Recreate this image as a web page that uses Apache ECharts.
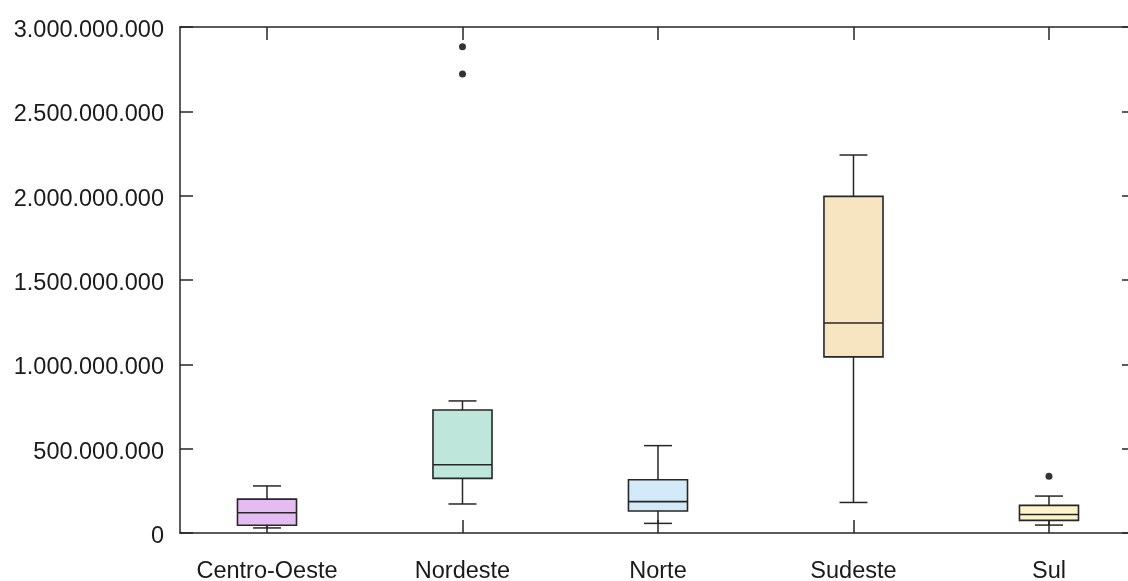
<!DOCTYPE html>
<html>
<head>
<meta charset="utf-8">
<script src="https://cdn.jsdelivr.net/npm/echarts@6/dist/echarts.min.js"></script>
<style>
  html, body { margin: 0; padding: 0; background: #fff; }
  #chart { width: 1128px; height: 581px; }
</style>
</head>
<body>
<div id="chart"></div>
<script>
// Regions and their box statistics
const categories = ['Centro-Oeste', 'Nordeste', 'Norte', 'Sudeste', 'Sul'];
const lowerWhisker = [30e6, 172e6, 57e6, 181e6, 47e6];
const q1 = [46e6, 324e6, 130e6, 1044e6, 75e6];
const median = [120e6, 405e6, 186e6, 1245e6, 110e6];
const q3 = [201e6, 729e6, 316e6, 1996e6, 164e6];
const upperWhisker = [279e6, 783e6, 518e6, 2241e6, 219e6];
// Outliers: [region index (1-based), value]
const outliers = [[2, 2883e6], [2, 2721e6], [5, 336e6]];
const yTicks = [0, 500e6, 1000e6, 1500e6, 2000e6, 2500e6, 3000e6];

const fills = ['#e5bcf1', '#bfe6da', '#d5eaf8', '#f7e5c1', '#fcf5cb'];
const ink = '#262626';

const boxData = categories.map((c, i) => [i + 1, lowerWhisker[i], q1[i], median[i], q3[i], upperWhisker[i]]);
const positions = categories.map((c, i) => i + 1);

function dotted(v) {
  return String(Math.round(v)).replace(/\B(?=(\d{3})+(?!\d))/g, '.');
}

const chart = echarts.init(document.getElementById('chart'), null, { renderer: 'canvas' });

const labelFont = { fontFamily: 'Liberation Sans, Arial, sans-serif', fontSize: 23.5, color: '#1a1a1a' };
const axisLine = { show: true, onZero: false, lineStyle: { color: ink, width: 1.5 } };
const tick = { show: true, inside: true, length: 13, lineStyle: { color: ink, width: 1.5 } };

chart.setOption({
  animation: false,
  // the plot frame runs slightly past the right edge of the canvas
  grid: { left: 180, top: 27, width: 955, height: 506, outerBoundsMode: 'none', containLabel: false },
  xAxis: [
    {
      type: 'value', position: 'bottom', min: 0.555, max: 5.44,
      axisLine: axisLine,
      splitLine: { show: false },
      axisTick: Object.assign({ customValues: positions }, tick),
      axisLabel: Object.assign({ customValues: positions, margin: 27,
        formatter: v => categories[Math.round(v) - 1] || '' }, labelFont)
    },
    {
      type: 'value', position: 'top', min: 0.555, max: 5.44,
      axisLine: axisLine,
      splitLine: { show: false },
      axisTick: Object.assign({ customValues: positions }, tick),
      axisLabel: { show: false }
    }
  ],
  yAxis: [
    {
      type: 'value', position: 'left', min: 0, max: 3000e6,
      axisLine: axisLine,
      splitLine: { show: false },
      axisTick: Object.assign({ customValues: yTicks }, tick),
      axisLabel: Object.assign({ customValues: yTicks, margin: 16,
        formatter: v => '{t|' + dotted(v) + '}',
        rich: { t: Object.assign({ padding: [7, 0, 0, 0] }, labelFont) } }, labelFont)
    },
    {
      type: 'value', position: 'right', min: 0, max: 3000e6,
      axisLine: axisLine,
      splitLine: { show: false },
      axisTick: Object.assign({ customValues: yTicks }, tick),
      axisLabel: { show: false }
    }
  ],
  series: [
    {
      type: 'custom',
      xAxisIndex: 0, yAxisIndex: 0,
      data: boxData,
      renderItem: function (params, api) {
        const x = api.value(0);
        const pLow = api.coord([x, api.value(1)]);
        const pQ1 = api.coord([x, api.value(2)]);
        const pMed = api.coord([x, api.value(3)]);
        const pQ3 = api.coord([x, api.value(4)]);
        const pHigh = api.coord([x, api.value(5)]);
        const boxW = api.size([0.302, 0])[0];
        const capW = api.size([0.143, 0])[0];
        const cx = pMed[0];
        const stroke = { stroke: ink, lineWidth: 1.5, fill: null };
        return {
          type: 'group',
          children: [
            { type: 'line', shape: { x1: cx, y1: pQ3[1], x2: cx, y2: pHigh[1] }, style: stroke },
            { type: 'line', shape: { x1: cx, y1: pQ1[1], x2: cx, y2: pLow[1] }, style: stroke },
            { type: 'line', shape: { x1: cx - capW / 2, y1: pHigh[1], x2: cx + capW / 2, y2: pHigh[1] }, style: stroke },
            { type: 'line', shape: { x1: cx - capW / 2, y1: pLow[1], x2: cx + capW / 2, y2: pLow[1] }, style: stroke },
            { type: 'rect', shape: { x: cx - boxW / 2, y: pQ3[1], width: boxW, height: pQ1[1] - pQ3[1] },
              style: { fill: fills[params.dataIndex], stroke: ink, lineWidth: 1.6 } },
            { type: 'line', shape: { x1: cx - boxW / 2, y1: pMed[1], x2: cx + boxW / 2, y2: pMed[1] }, style: { stroke: ink, lineWidth: 1.6 } }
          ]
        };
      }
    },
    {
      type: 'scatter',
      xAxisIndex: 0, yAxisIndex: 0,
      data: outliers,
      symbol: 'circle',
      symbolSize: 7,
      itemStyle: { color: '#000' }
    }
  ]
});
</script>
</body>
</html>
